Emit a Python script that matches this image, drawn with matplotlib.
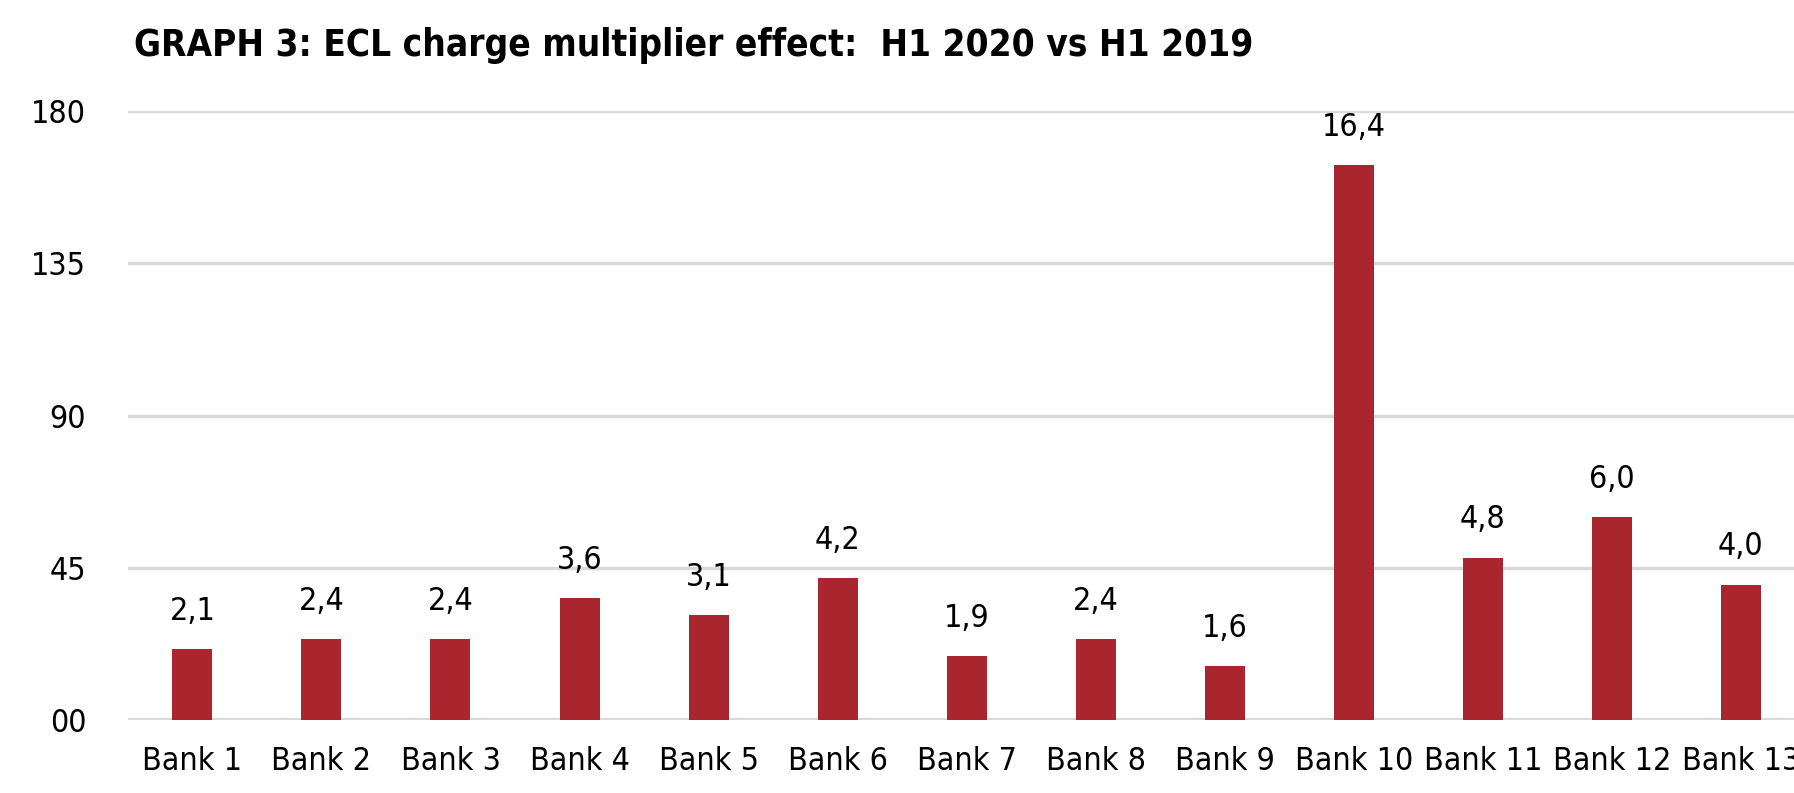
#!/usr/bin/env python3
# -*- coding: utf-8 -*-
import matplotlib
matplotlib.use('Agg')
import matplotlib.pyplot as plt
from matplotlib import font_manager

banks = ['Bank 1', 'Bank 2', 'Bank 3', 'Bank 4', 'Bank 5', 'Bank 6', 'Bank 7',
         'Bank 8', 'Bank 9', 'Bank 10', 'Bank 11', 'Bank 12', 'Bank 13']
multiplier = [2.1, 2.4, 2.4, 3.6, 3.1, 4.2, 1.9, 2.4, 1.6, 16.4, 4.8, 6.0, 4.0]
yticks = [0, 45, 90, 135, 180]
ytick_labels = ['00', '45', '90', '135', '180']
title = 'GRAPH 3: ECL charge multiplier effect:  H1 2020 vs H1 2019'

names = {f.name for f in font_manager.fontManager.ttflist}
if 'Liberation Sans Narrow' in names:
	fam = ['Liberation Sans Narrow', 'DejaVu Sans']
	stretch = 'normal'
else:
	fam = ['DejaVu Sans']
	stretch = 'condensed'
plt.rcParams['font.family'] = fam
plt.rcParams['font.stretch'] = stretch

bar_color = '#a9262f'
grid_color = '#d9d9d9'

fig = plt.figure(figsize=(17.94, 7.93), dpi=100)
ax = fig.add_axes([0.0713, 0.092, 0.935, 0.768])

heights = [v * 10 for v in multiplier]
x = range(len(banks))
ax.bar(x, heights, width=0.31, color=bar_color, zorder=3)

for xi, h, v in zip(x, heights, multiplier):
	ax.annotate(('%.1f' % v).replace('.', ','), (xi, h), xytext=(0, 16),
	            textcoords='offset points', ha='center', va='bottom', fontsize=23)

ax.set_xlim(-0.5, 12.5)
ax.set_ylim(0, 180)
ax.set_yticks(yticks)
ax.set_yticklabels(ytick_labels, fontsize=23)
ax.set_xticks(list(x))
ax.set_xticklabels(banks, fontsize=23)
ax.tick_params(axis='y', length=0, pad=30)
ax.tick_params(axis='x', length=0, pad=19)
ax.yaxis.grid(True, color=grid_color, lw=2.5, zorder=0)
ax.set_axisbelow(True)
for s in ax.spines.values():
	s.set_visible(False)
ax.axhline(0, color=grid_color, lw=3, zorder=2)

fig.text(0.0745, 0.942, title, fontsize=26.5, fontweight='bold', ha='left', va='center')

fig.savefig('out.png', dpi=100)
